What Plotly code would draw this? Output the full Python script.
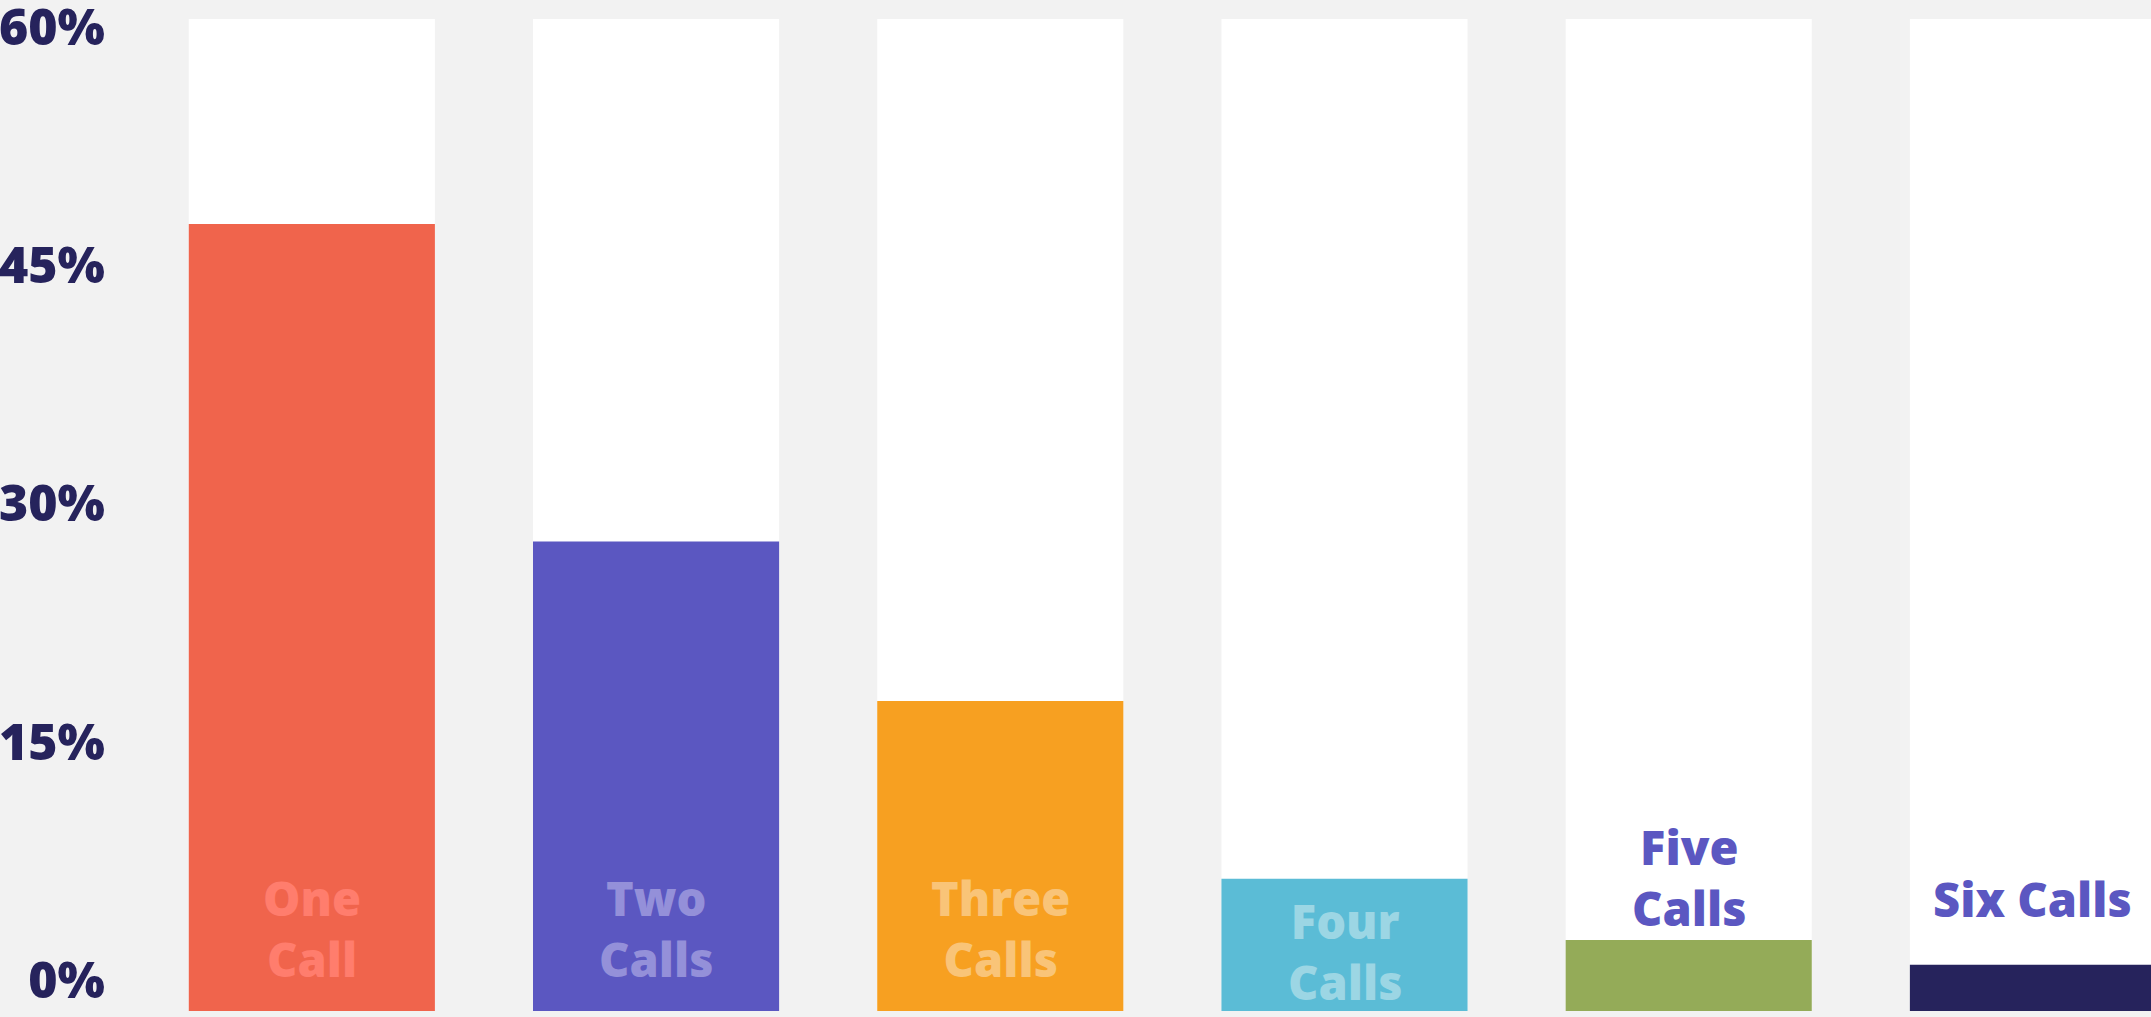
import plotly.graph_objects as go

categories = ["One Call", "Two Calls", "Three Calls", "Four Calls", "Five Calls", "Six Calls"]
values = [47.6, 28.4, 18.75, 8.0, 4.3, 2.8]
max_value = 60
tick_values = [0, 15, 30, 45, 60]
tick_labels = ["0%", "15%", "30%", "45%", "60%"]
label_texts = ["One<br>Call", "Two<br>Calls", "Three<br>Calls", "Four<br>Calls", "Five<br>Calls", "Six Calls"]

bar_colors = ["#F0644C", "#5B57C1", "#F7A021", "#5BBCD6", "#94AB58", "#26235C"]
label_colors = ["#FF7D6D", "#9490D9", "#F9C478", "#9CD6E4", "#5B57C1", "#5B57C1"]
label_y = [5.0, 5.0, 5.0, 3.6, 8.1, 6.8]

fig = go.Figure()
fig.add_trace(go.Bar(x=categories, y=[max_value] * len(categories),
                     marker=dict(color="#FFFFFF", line=dict(width=0)),
                     hoverinfo="skip", showlegend=False))
fig.add_trace(go.Bar(x=categories, y=values,
                     marker=dict(color=bar_colors, line=dict(width=0)),
                     showlegend=False))
fig.add_trace(go.Scatter(x=[categories[0]], y=[None], yaxis="y2",
                         mode="markers", showlegend=False, hoverinfo="skip"))

for c, t, col, yy in zip(categories, label_texts, label_colors, label_y):
    fig.add_annotation(x=c, y=yy, text=t, showarrow=False,
                       xanchor="center", yanchor="middle",
                       font=dict(family="Open Sans", size=47, color=col, weight=800))

W, H = 2151, 1017
fig.update_layout(
    width=W, height=H,
    margin=dict(l=106, r=0, t=0, b=0, autoexpand=False),
    paper_bgcolor="#F2F2F2", plot_bgcolor="#F2F2F2",
    barmode="overlay", bargap=0.285,
    xaxis=dict(range=[-0.598, 5.343], showticklabels=False, showgrid=False,
               zeroline=False, showline=False, ticks="", automargin=False),
    yaxis=dict(range=[-0.363, 61.15], showticklabels=False, showgrid=False,
               zeroline=False, showline=False, ticks="", automargin=False),
    yaxis2=dict(range=[-2.33, 61.76], overlaying="y", side="left",
                tickvals=tick_values, ticktext=tick_labels, showgrid=False,
                zeroline=False, showline=False, ticks="", ticklabeloverflow="allow",
                automargin=False,
                tickfont=dict(family="Open Sans", size=50, color="#26235C", weight=800)),
)

fig.write_html("out.html", config={"displayModeBar": False},
               post_script="document.body.style.margin='0';document.body.style.overflow='hidden';")
